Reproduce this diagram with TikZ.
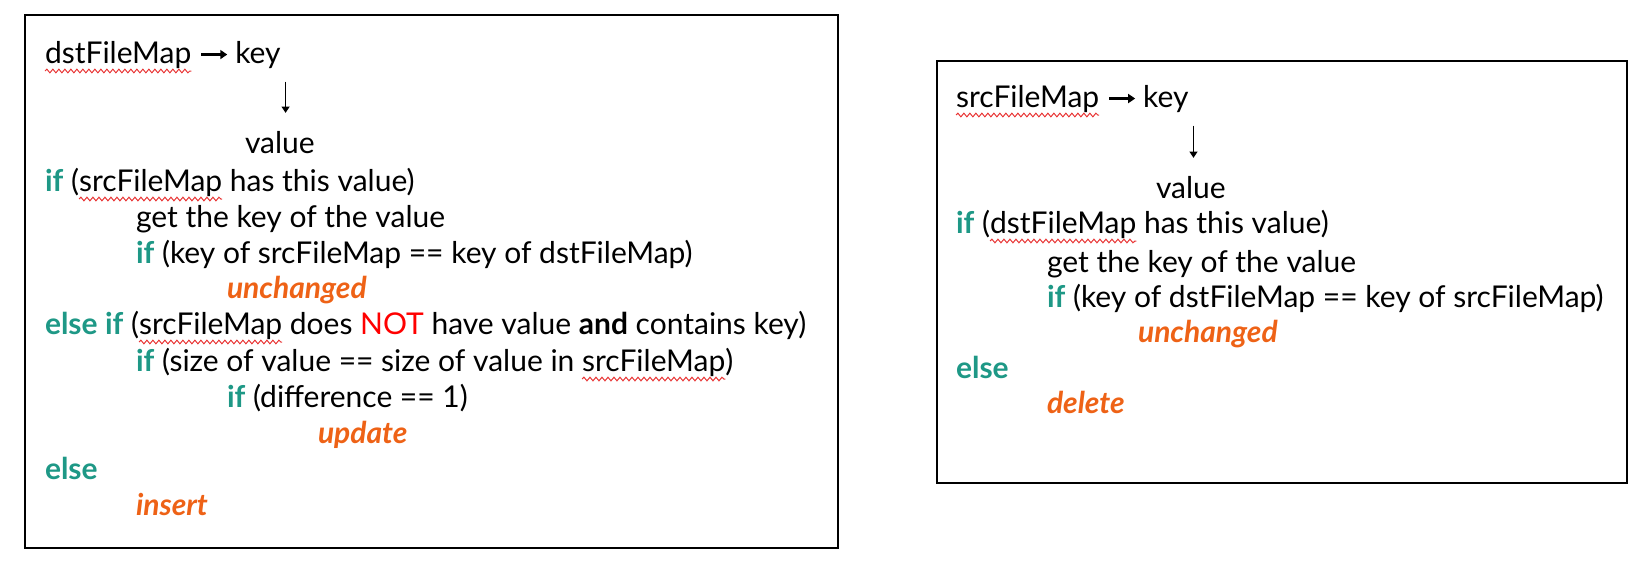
\documentclass[tikz,border=0pt]{standalone}
\usepackage{fontspec}
\setmainfont{Lato}
\usetikzlibrary{arrows.meta,positioning,decorations.pathmorphing}

\definecolor{kwteal}{RGB}{30,152,134}
\definecolor{actorange}{RGB}{238,98,22}
\definecolor{notred}{RGB}{255,0,0}
\definecolor{spellred}{RGB}{232,52,52}

\newcommand{\kw}[1]{\textcolor{kwteal}{\textbf{#1}}}
\newcommand{\act}[1]{\textcolor{actorange}{\textbf{\textit{#1}}}}
\newsavebox{\spellbox}
\newcommand{\spellmark}[1]{\sbox{\spellbox}{#1}%
  \rlap{\tikz[overlay,baseline=0pt,x=1pt,y=1pt]\draw[spellred,line width=0.5pt,decorate,
        decoration={snake,amplitude=0.9pt,segment length=3pt}] (0pt,-4pt) -- (\wd\spellbox,-4pt);}%
  \usebox{\spellbox}}

\begin{document}
\begin{tikzpicture}[x=0.5pt,y=-0.5pt,node distance=22pt,
    every node/.style={inner sep=0pt,outer sep=0pt,font=\fontsize{15}{18}\selectfont},
    codeline/.style={anchor=base west},
    frame/.style={draw=black,line width=1pt},
    maparrow/.style={-{Triangle[length=3.5pt,width=4.5pt]},line width=1.4pt,
                     shorten <=5pt,shorten >=4pt},
    valarrow/.style={-{Triangle[length=3.2pt,width=4pt]},line width=0.75pt}]

  \useasboundingbox (0,0) rectangle (1647,563);
  \draw[frame] (25,15) rectangle (838,548);
  \draw[frame] (937,61) rectangle (1627,483);

  % left box: dstFileMap
  \node[codeline] (dstmap) at (45,63) {\spellmark{dstFileMap}};
  \node (dstkey) [base right = of dstmap] {key};
  \node[codeline] (dstval) at (245,153) {value};

  \node[codeline] (l1)  at (45,191)  {\kw{if} (\spellmark{srcFileMap} has this value)};
  \node[codeline] (l2)  at (136,227) {get the key of the value};
  \node[codeline] (l3)  at (136,263) {\kw{if} (key of srcFileMap == key of dstFileMap)};
  \node[codeline] (l4)  at (227,298) {\act{unchanged}};
  \node[codeline] (l5)  at (45,334)  {\kw{else if} (\spellmark{srcFileMap} does \textcolor{notred}{NOT} have value \textbf{and} contains key)};
  \node[codeline] (l6)  at (136,371) {\kw{if} (size of value == size of value in \spellmark{srcFileMap})};
  \node[codeline] (l7)  at (227,407) {\kw{if} (difference == 1)};
  \node[codeline] (l8)  at (318,443) {\act{update}};
  \node[codeline] (l9)  at (45,479)  {\kw{else}};
  \node[codeline] (l10) at (136,515) {\act{insert}};

  \draw[maparrow] (dstmap.east) -- (dstmap.east -| dstkey.west);
  \draw[valarrow] ([xshift=2.5pt,yshift=-6.75pt]dstkey.south east)
               -- ([xshift=2.5pt,yshift=9pt]dstval.north -| dstkey.south east);

  % right box: srcFileMap
  \node[codeline] (srcmap) at (956,107) {\spellmark{srcFileMap}};
  \node (srckey) [base right = of srcmap] {key};
  \node[codeline] (srcval) at (1156,198) {value};

  \node[codeline] (r1) at (956,233)  {\kw{if} (\spellmark{dstFileMap} has this value)};
  \node[codeline] (r2) at (1047,272) {get the key of the value};
  \node[codeline] (r3) at (1047,307) {\kw{if} (key of dstFileMap == key of srcFileMap)};
  \node[codeline] (r4) at (1138,342) {\act{unchanged}};
  \node[codeline] (r5) at (956,378)  {\kw{else}};
  \node[codeline] (r6) at (1047,413) {\act{delete}};

  \draw[maparrow] (srcmap.east) -- (srcmap.east -| srckey.west);
  \draw[valarrow] ([xshift=2.5pt,yshift=-6.75pt]srckey.south east)
               -- ([xshift=2.5pt,yshift=9pt]srcval.north -| srckey.south east);

\end{tikzpicture}
\end{document}
